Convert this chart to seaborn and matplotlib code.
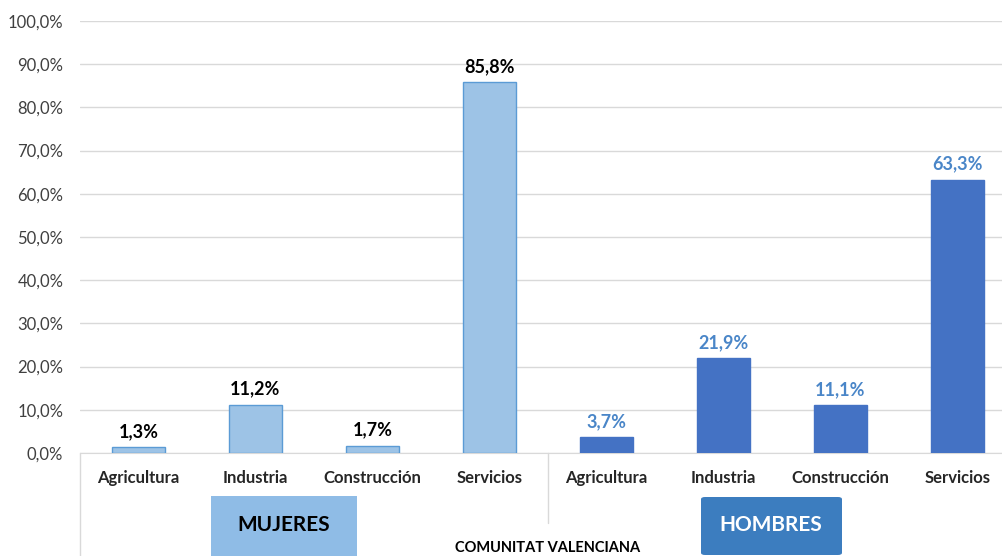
import matplotlib
matplotlib.use("Agg")
import matplotlib.pyplot as plt
from matplotlib.patches import Rectangle, FancyBboxPatch
import seaborn as sns
import pandas as pd

sectores = ["Agricultura", "Industria", "Construcción", "Servicios"]
mujeres = [1.3, 11.2, 1.7, 85.8]
hombres = [3.7, 21.9, 11.1, 63.3]
grupos = ["MUJERES", "HOMBRES"]
titulo = "COMUNITAT VALENCIANA"

col_muj = "#9DC3E6"
col_muj_edge = "#5B9BD5"
col_hom = "#4472C4"
col_lab_hom = "#4A86C8"

df = pd.DataFrame({
    "pos": [f"M{i}" for i in range(4)] + [f"H{i}" for i in range(4)],
    "sector": sectores + sectores,
    "valor": mujeres + hombres,
    "genero": ["MUJERES"] * 4 + ["HOMBRES"] * 4,
})

sns.set_style("white")
plt.rcParams["font.family"] = ["Lato", "DejaVu Sans"]

W, H = 1003, 556
fig = plt.figure(figsize=(W / 100, H / 100), dpi=100)
ax = fig.add_axes([80 / W, (H - 453) / H, 936 / W, 432 / H])

sns.barplot(data=df, x="pos", y="valor", hue="genero",
            palette={"MUJERES": col_muj, "HOMBRES": col_hom},
            dodge=False, width=0.46, saturation=1, legend=False, ax=ax, zorder=3)
for p in ax.patches:
    x = p.get_x() + p.get_width() / 2
    p.set_edgecolor(col_muj_edge if x < 3.5 else col_hom)
    p.set_linewidth(1)

ax.set_xlim(-0.5, 7.5)
ax.set_ylim(0, 100)
ax.set_yticks(range(0, 101, 10))
ax.set_yticklabels([f"{v},0%" for v in range(0, 101, 10)], fontsize=12, color="#404040")
ax.set_xticks(range(8))
ax.set_xticklabels(df["sector"], fontsize=12, fontweight="bold", color="#262626")
ax.tick_params(axis="x", length=0, pad=12)
ax.tick_params(axis="y", length=0, pad=12)
ax.set_xlabel("")
ax.set_ylabel("")
ax.grid(axis="y", color="#D9D9D9", linewidth=1, zorder=0)
for s in ["top", "right", "left"]:
    ax.spines[s].set_visible(False)
ax.spines["bottom"].set_color("#D9D9D9")

for x, (v, g) in enumerate(zip(df["valor"], df["genero"])):
    c = "black" if g == "MUJERES" else col_lab_hom
    ax.annotate(f"{v:.1f}%".replace(".", ","), (x, v), xytext=(0, 5),
                textcoords="offset points", ha="center", va="bottom",
                fontsize=13, fontweight="bold", color=c)

def fx(px):
    return px / W

def fy(py):
    return (H - py) / H

# category axis lines
fig.add_artist(plt.Line2D([fx(80), fx(80)], [fy(453), fy(556)], color="#D9D9D9", lw=1))
fig.add_artist(plt.Line2D([fx(548), fx(548)], [fy(453), fy(523)], color="#D9D9D9", lw=1))

# group boxes
fig.patches.append(Rectangle((fx(211), fy(556)), fx(146), 60 / H, transform=fig.transFigure,
                             facecolor="#8FBCE6", edgecolor="none", figure=fig))
fig.text(fx(284), fy(525), grupos[0], ha="center", va="center", fontsize=15,
         fontweight="bold", color="black")
fig.patches.append(FancyBboxPatch((fx(701), fy(555)), fx(141), 58 / H, boxstyle="round,pad=0,rounding_size=0.004",
                                  transform=fig.transFigure, facecolor="#3C7DBF",
                                  edgecolor="none", figure=fig))
fig.text(fx(771), fy(525), grupos[1], ha="center", va="center", fontsize=15,
         fontweight="bold", color="white")
fig.text(fx(548), fy(548), titulo, ha="center", va="center", fontsize=10.5,
         fontweight="bold", color="black")

fig.savefig("out.png", dpi=100)
